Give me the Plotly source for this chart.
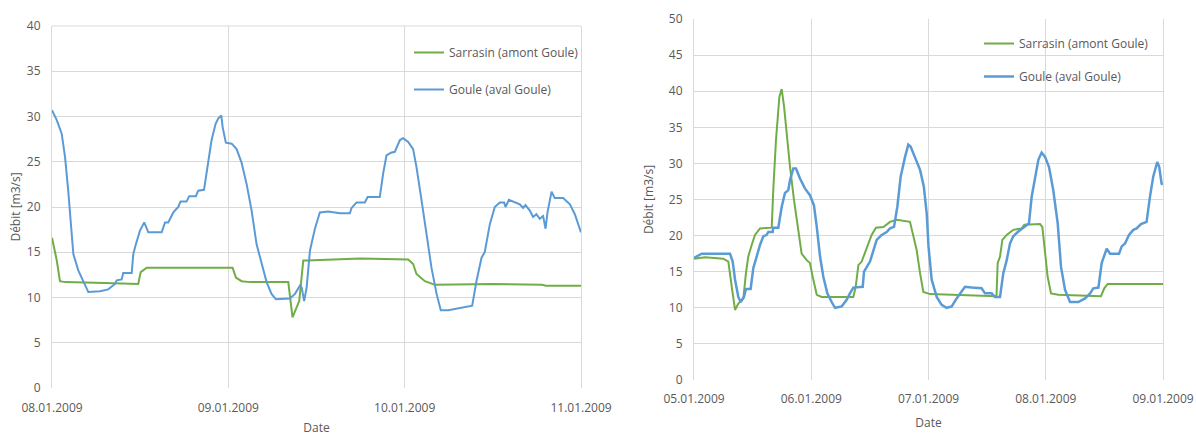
import pandas as pd
import plotly.graph_objects as go

# ---------------- data ----------------
# Left panel: 08.01.2009 - 11.01.2009, time in days since start
LEFT_START = "2009-01-08"
LB_t = [0, 0.027, 0.055, 0.074, 0.092, 0.112, 0.121, 0.149, 0.178, 0.206,
        0.272, 0.319, 0.357, 0.367, 0.395, 0.404, 0.452, 0.461, 0.476, 0.499,
        0.523, 0.546, 0.622, 0.641, 0.659, 0.688, 0.716, 0.729, 0.763, 0.778,
        0.816, 0.829, 0.862, 0.877, 0.905, 0.928, 0.943, 0.960, 0.968, 0.986,
        1.019, 1.047, 1.075, 1.104, 1.132, 1.160, 1.189, 1.217, 1.245, 1.270,
        1.349, 1.378, 1.406, 1.416, 1.430, 1.444, 1.463, 1.491, 1.519, 1.566,
        1.633, 1.689, 1.699, 1.727, 1.774, 1.790, 1.859, 1.878, 1.897, 1.922,
        1.944, 1.973, 1.991, 2.020, 2.048, 2.067, 2.096, 2.124, 2.152, 2.181,
        2.205, 2.247, 2.322, 2.383, 2.407, 2.436, 2.454, 2.483, 2.511, 2.540,
        2.564, 2.572, 2.591, 2.625, 2.653, 2.672, 2.685, 2.710, 2.728, 2.747,
        2.766, 2.785, 2.799, 2.810, 2.833, 2.851, 2.899, 2.937, 2.965, 3.0]
LB_v = [30.7, 29.6, 28.1, 25.5, 21.8, 17.0, 14.8, 13.0, 11.7, 10.6,
        10.7, 10.9, 11.5, 11.9, 12.0, 12.7, 12.7, 14.8, 15.9, 17.4,
        18.3, 17.2, 17.2, 18.3, 18.3, 19.4, 20.0, 20.6, 20.6, 21.2,
        21.2, 21.8, 21.9, 23.7, 27.4, 29.2, 29.8, 30.1, 28.8, 27.1,
        27.0, 26.4, 24.9, 22.5, 19.6, 15.9, 13.7, 11.7, 10.4, 9.8,
        9.9, 10.4, 11.3, 11.1, 9.6, 11.1, 15.2, 17.6, 19.4, 19.5,
        19.3, 19.3, 19.9, 20.5, 20.5, 21.1, 21.1, 23.7, 25.7, 26.0,
        26.1, 27.4, 27.6, 27.2, 26.4, 24.4, 20.7, 17.0, 13.3, 10.4,
        8.6, 8.6, 8.9, 9.1, 11.8, 14.4, 15.0, 18.1, 20.0, 20.5,
        20.5, 20.0, 20.8, 20.5, 20.3, 19.9, 20.2, 19.6, 18.9, 19.2,
        18.7, 19.0, 17.6, 19.4, 21.7, 21.0, 21.0, 20.3, 19.2, 17.2]
LG_t = [0, 0.027, 0.045, 0.075, 0.30, 0.489, 0.503, 0.537, 0.80, 1.024,
        1.043, 1.075, 1.122, 1.340, 1.364, 1.402, 1.425, 1.444, 1.75, 2.020,
        2.048, 2.067, 2.115, 2.172, 2.5, 2.78, 2.80, 3.0]
LG_v = [16.6, 14.1, 11.8, 11.7, 11.6, 11.5, 12.8, 13.3, 13.3, 13.3,
        12.2, 11.8, 11.7, 11.7, 7.8, 9.6, 14.1, 14.1, 14.3, 14.2,
        13.7, 12.6, 11.8, 11.4, 11.5, 11.4, 11.3, 11.3]

# Right panel: 05.01.2009 - 09.01.2009
RIGHT_START = "2009-01-05"
RB_t = [0.0, 0.066, 0.307, 0.330, 0.350, 0.378, 0.398, 0.426, 0.443, 0.483,
        0.506, 0.534, 0.563, 0.591, 0.620, 0.634, 0.671, 0.676, 0.719, 0.748,
        0.776, 0.804, 0.819, 0.847, 0.870, 0.904, 0.947, 0.989, 1.023, 1.047,
        1.075, 1.103, 1.137, 1.174, 1.203, 1.260, 1.302, 1.330, 1.359, 1.439,
        1.450, 1.501, 1.529, 1.558, 1.601, 1.643, 1.672, 1.706, 1.734, 1.763,
        1.800, 1.828, 1.848, 1.885, 1.928, 1.960, 1.985, 2.000, 2.027, 2.070,
        2.112, 2.155, 2.198, 2.240, 2.269, 2.311, 2.368, 2.453, 2.482, 2.539,
        2.567, 2.610, 2.638, 2.667, 2.695, 2.723, 2.761, 2.795, 2.823, 2.857,
        2.880, 2.908, 2.937, 2.965, 2.994, 3.028, 3.064, 3.102, 3.130, 3.164,
        3.207, 3.278, 3.335, 3.378, 3.406, 3.449, 3.477, 3.520, 3.548, 3.625,
        3.648, 3.676, 3.710, 3.747, 3.775, 3.812, 3.860, 3.889, 3.917, 3.951,
        3.968, 3.988, 4.0]
RB_v = [16.9, 17.5, 17.5, 16.4, 13.9, 11.5, 10.8, 11.5, 12.6, 12.6,
        15.5, 17.1, 18.7, 19.9, 20.1, 20.5, 20.5, 21.1, 21.1, 24.0,
        25.9, 26.3, 27.7, 29.3, 29.3, 27.9, 26.5, 25.6, 24.2, 21.2,
        17.1, 14.3, 12.0, 10.8, 10.0, 10.2, 11.1, 12.0, 12.8, 12.9,
        15.0, 16.4, 18.0, 19.4, 20.1, 20.5, 21.0, 21.2, 24.0, 28.2,
        30.9, 32.6, 32.3, 30.7, 29.1, 26.8, 23.0, 18.5, 13.9, 11.5,
        10.4, 10.0, 10.2, 11.3, 12.0, 12.9, 12.8, 12.7, 12.0, 12.0,
        11.5, 11.5, 14.8, 16.6, 18.9, 19.9, 20.5, 20.9, 21.2, 21.7,
        25.4, 28.2, 30.5, 31.5, 30.9, 29.5, 26.3, 21.7, 15.7, 12.5,
        10.8, 10.8, 11.3, 12.0, 12.7, 12.8, 16.2, 18.2, 17.5, 17.5,
        18.5, 18.9, 20.1, 20.8, 21.0, 21.6, 21.9, 25.4, 28.2, 30.2,
        29.5, 27.2, 27.1]
RG_t = [0, 0.094, 0.25, 0.293, 0.322, 0.350, 0.378, 0.421, 0.443, 0.463,
        0.492, 0.520, 0.563, 0.663, 0.676, 0.699, 0.728, 0.748, 0.768, 0.791,
        0.819, 0.853, 0.890, 0.918, 0.961, 0.989, 1.012, 1.047, 1.089, 1.359,
        1.379, 1.402, 1.430, 1.473, 1.515, 1.552, 1.615, 1.672, 1.729, 1.842,
        1.865, 1.899, 1.928, 1.956, 2.013, 2.2, 2.539, 2.580, 2.590, 2.610,
        2.630, 2.667, 2.723, 2.795, 2.817, 2.951, 2.971, 2.994, 3.016, 3.045,
        3.107, 3.471, 3.499, 3.528, 4.0]
RG_v = [16.8, 17.0, 16.8, 16.4, 12.9, 9.7, 10.6, 11.3, 14.8, 17.1,
        18.7, 20.1, 21.0, 21.1, 26.3, 33.2, 39.2, 40.3, 37.9, 33.7,
        29.5, 24.9, 20.8, 17.5, 16.6, 16.2, 14.3, 11.8, 11.5, 11.5,
        12.9, 15.9, 16.4, 18.2, 20.1, 21.1, 21.2, 21.9, 22.2, 21.9,
        20.3, 18.0, 14.8, 12.2, 11.9, 11.8, 11.7, 11.6, 16.2, 17.1,
        19.4, 20.1, 20.8, 21.0, 21.5, 21.6, 21.2, 17.1, 14.3, 12.0,
        11.8, 11.6, 12.7, 13.3, 13.3]

NAME_GREEN = "Sarrasin (amont Goule)"
NAME_BLUE = "Goule (aval Goule)"
Y_TITLE = "Débit [m3/s]"
X_TITLE = "Date"
LEFT_YMAX, RIGHT_YMAX = 40, 50
LEFT_DAYS, RIGHT_DAYS = 3, 4

# ---------------- figure ----------------
def to_dt(start, days):
    return pd.Timestamp(start) + pd.to_timedelta(pd.Series(days), unit="D")

GREEN = "#70AD47"
BLUE = "#5B9BD5"
GRID = "#D9D9D9"
TXT = "#595959"
FONT = "Open Sans"

fig = go.Figure()
fig.add_trace(go.Scatter(x=to_dt(LEFT_START, LG_t), y=LG_v, mode="lines", name=NAME_GREEN,
                         line=dict(color=GREEN, width=2), xaxis="x", yaxis="y",
                         legend="legend", legendgroup="g1"))
fig.add_trace(go.Scatter(x=to_dt(LEFT_START, LB_t), y=LB_v, mode="lines", name=NAME_BLUE,
                         line=dict(color=BLUE, width=2), xaxis="x", yaxis="y",
                         legend="legend", legendgroup="g2"))
fig.add_trace(go.Scatter(x=to_dt(RIGHT_START, RG_t), y=RG_v, mode="lines", name=NAME_GREEN,
                         line=dict(color=GREEN, width=2), xaxis="x2", yaxis="y2",
                         legend="legend2", legendgroup="g3"))
fig.add_trace(go.Scatter(x=to_dt(RIGHT_START, RB_t), y=RB_v, mode="lines", name=NAME_BLUE,
                         line=dict(color=BLUE, width=2.5), xaxis="x2", yaxis="y2",
                         legend="legend2", legendgroup="g4"))

W, H = 1196, 436

def px_x(p):
    return p / W

def px_y(p):
    return 1 - p / H

def xaxis(start, ndays, dom, anchor, lab_off, title_off):
    end = pd.Timestamp(start) + pd.Timedelta(days=ndays)
    return dict(domain=dom, anchor=anchor, type="date", automargin=False,
                range=[pd.Timestamp(start), end], dtick=86400000.0,
                tick0=pd.Timestamp(start), tickformat="%d.%m.%Y",
                showgrid=True, gridcolor=GRID, gridwidth=1, zeroline=False,
                showline=False, ticks="", ticklabelstandoff=lab_off,
                tickfont=dict(family=FONT, size=12, color=TXT),
                title=dict(text=X_TITLE, font=dict(family=FONT, size=12, color=TXT), standoff=title_off))

def yaxis(ymax, dom, anchor, title_off):
    return dict(domain=dom, anchor=anchor, range=[0, ymax], dtick=5, tick0=0,
                automargin=False,
                showgrid=True, gridcolor=GRID, gridwidth=1, zeroline=False,
                showline=True, mirror=True, linecolor=GRID, linewidth=1,
                ticks="", ticklabelstandoff=8,
                tickfont=dict(family=FONT, size=12, color=TXT),
                title=dict(text=Y_TITLE, font=dict(family=FONT, size=12, color=TXT), standoff=title_off))

legend_common = dict(font=dict(family=FONT, size=12, color=TXT), bgcolor="rgba(0,0,0,0)",
                     traceorder="grouped", itemwidth=30, xanchor="left", yanchor="top")

fig.update_layout(
    width=W, height=H, autosize=False,
    margin=dict(l=0, r=0, t=0, b=0),
    paper_bgcolor="white", plot_bgcolor="white",
    showlegend=True,
    xaxis=xaxis(LEFT_START, LEFT_DAYS, [px_x(52), px_x(581)], "y", 11, 14),
    yaxis=yaxis(LEFT_YMAX, [px_y(388), px_y(26)], "x", 3),
    xaxis2=xaxis(RIGHT_START, RIGHT_DAYS, [px_x(694), px_x(1163)], "y2", 10, 12),
    yaxis2=yaxis(RIGHT_YMAX, [px_y(380), px_y(19)], "x2", 12),
    legend=dict(x=px_x(409), y=px_y(38), tracegroupgap=18, **legend_common),
    legend2=dict(x=px_x(979), y=px_y(29), tracegroupgap=14, **legend_common),
    shapes=[dict(type="line", xref="x domain", yref="y domain", x0=0, x1=1, y0=1, y1=1,
                 line=dict(color=GRID, width=1), layer="below")],
)

fig.write_html("out.html")
